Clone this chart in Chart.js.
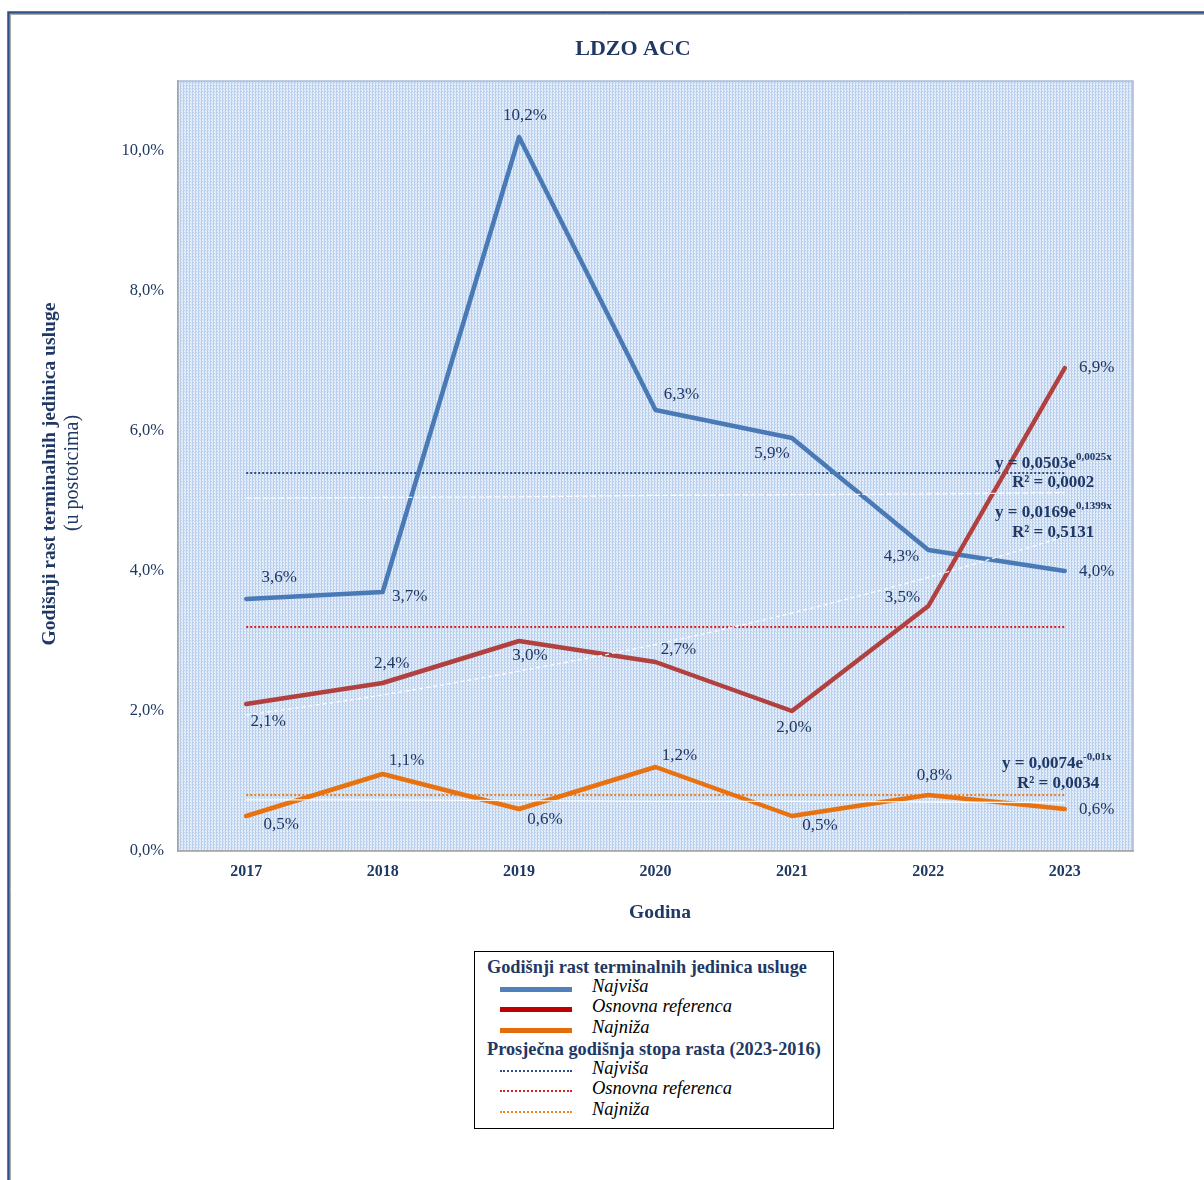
<!DOCTYPE html>
<html>
<head>
<meta charset="utf-8">
<title>LDZO ACC</title>
<script src="https://cdn.jsdelivr.net/npm/chart.js@4.4.0/dist/chart.umd.js"></script>
<style>
  body { margin: 0; background: #fff; }
  #wrap { position: relative; width: 1204px; height: 1180px; }
  #legend {
    position: absolute; left: 474px; top: 951px; width: 358px; height: 176px;
    border: 1.5px solid #000; background: #fff;
    font-family: "Liberation Serif", "Times New Roman", serif;
  }
  .lg-head { position: absolute; left: 12px; font-weight: bold; font-size: 18.3px; color: #1f3864; white-space: nowrap; }
  .lg-row { position: absolute; left: 25px; height: 20px; width: 330px; }
  .lg-row .sw { position: absolute; left: 0; width: 72px; }
  .lg-row .tx { position: absolute; left: 92px; top: -3px; font-style: italic; font-size: 18.5px; color: #000; white-space: nowrap; }
</style>
</head>
<body>
<div id="wrap">
  <canvas id="chart" width="1204" height="1180"></canvas>
  <div id="legend"></div>
</div>
<script>
// podaci
const godine = ['2017', '2018', '2019', '2020', '2021', '2022', '2023'];
const najvisa = [3.6, 3.7, 10.2, 6.3, 5.9, 4.3, 4.0];
const osnovna = [2.1, 2.4, 3.0, 2.7, 2.0, 3.5, 6.9];
const najniza = [0.5, 1.1, 0.6, 1.2, 0.5, 0.8, 0.6];

// prosječna godišnja stopa rasta (2023-2016)
const prosjekNajvisa = [5.4, 5.4, 5.4, 5.4, 5.4, 5.4, 5.4];
const prosjekOsnovna = [3.2, 3.2, 3.2, 3.2, 3.2, 3.2, 3.2];
const prosjekNajniza = [0.8, 0.8, 0.8, 0.8, 0.8, 0.8, 0.8];

// eksponencijalni trendovi (očitano sa slike)
const trendNajvisa = [5.04, 5.05, 5.06, 5.08, 5.09, 5.10, 5.12];
const trendOsnovna = [1.94, 2.23, 2.57, 2.95, 3.40, 3.91, 4.49];
const trendNajniza = [0.73, 0.73, 0.72, 0.71, 0.71, 0.70, 0.69];

const yTicks = [0, 2, 4, 6, 8, 10];

const jednadzbe = [
  { base: 'y = 0,0503e', exp: '0,0025x', r2: 'R² = 0,0002' },
  { base: 'y = 0,0169e', exp: '0,1399x', r2: 'R² = 0,5131' },
  { base: 'y = 0,0074e', exp: '-0,01x', r2: 'R² = 0,0034' }
];

const NAVY = '#1f3864';
const SERIF = '"Liberation Serif", "Times New Roman", serif';
const BLUE = '#4a7ab5';
const RED = '#b0413e';
const ORANGE = '#e8720f';

// pomaci oznaka vrijednosti [dx, dy] u odnosu na točku
const pomakNajvisa = [[33, -21], [27, 5], [6, -21], [26, -15], [-20, 16], [-27, 7], [32, 1]];
const pomakOsnovna = [[22, 18], [9, -19], [11, 15], [23, -12], [2, 17], [-26, -8], [32, 0]];
const pomakNajniza = [[35, 9], [24, -13], [26, 11], [24, -11], [28, 10], [6, -19], [32, 1]];

// pozicije jednadžbi trenda [x, baseline y, x za R², baseline R²]
const pozJednadzbi = [[995, 468, 1012, 487], [995, 517, 1012, 537], [1002, 768, 1017, 788]];

function fmt(v) {
  return v.toFixed(1).replace('.', ',') + '%';
}

// uzorak pozadine
function makePattern(ctx) {
  const c = document.createElement('canvas');
  c.width = 3; c.height = 3;
  const p = c.getContext('2d');
  p.fillStyle = '#e6eefa';
  p.fillRect(0, 0, 3, 3);
  p.fillStyle = '#b9cfee';
  p.fillRect(0, 0, 1, 3);
  p.fillRect(1, 1, 1, 1);
  p.fillStyle = '#d2e0f4';
  p.fillRect(2, 2, 1, 1);
  return ctx.createPattern(c, 'repeat');
}

const okvirPlugin = {
  id: 'okvir',
  beforeDraw(chart) {
    const { ctx, chartArea: a } = chart;
    ctx.save();
    ctx.fillStyle = '#fff';
    ctx.fillRect(0, 0, chart.width, chart.height);
    // vanjski okvir
    ctx.strokeStyle = '#2b4f86';
    ctx.lineWidth = 2.5;
    ctx.beginPath();
    ctx.moveTo(8.5, chart.height);
    ctx.lineTo(8.5, 12.5);
    ctx.lineTo(chart.width, 12.5);
    ctx.stroke();
    ctx.strokeStyle = '#a8a8a8';
    ctx.lineWidth = 1;
    ctx.beginPath();
    ctx.moveTo(10.5, chart.height);
    ctx.lineTo(10.5, 14.5);
    ctx.lineTo(chart.width, 14.5);
    ctx.stroke();
    // pozadina područja
    ctx.fillStyle = makePattern(ctx);
    ctx.fillRect(a.left, a.top, a.right - a.left, a.bottom - a.top);
    ctx.strokeStyle = '#a9bad6';
    ctx.lineWidth = 1.5;
    ctx.strokeRect(a.left, a.top, a.right - a.left, a.bottom - a.top);
    ctx.restore();
  },
  afterDraw(chart) {
    const { ctx } = chart;
    ctx.save();
    ctx.fillStyle = NAVY;
    ctx.textAlign = 'center';
    ctx.textBaseline = 'middle';
    ctx.font = 'bold 22px ' + SERIF;
    ctx.fillText('LDZO ACC', 633, 49);
    ctx.font = 'bold 19.5px ' + SERIF;
    ctx.fillText('Godina', 660, 913);
    ctx.save();
    ctx.translate(50, 474);
    ctx.rotate(-Math.PI / 2);
    ctx.font = 'bold 19.6px ' + SERIF;
    ctx.fillText('Godišnji rast terminalnih jedinica usluge', 0, 0);
    ctx.restore();
    ctx.save();
    ctx.translate(73, 473);
    ctx.rotate(-Math.PI / 2);
    ctx.font = '20px ' + SERIF;
    ctx.fillText('(u postotcima)', 0, 0);
    ctx.restore();

    // jednadžbe trenda
    ctx.textAlign = 'left';
    ctx.textBaseline = 'alphabetic';
    jednadzbe.forEach((j, i) => {
      const [x, y, rx, ry] = pozJednadzbi[i];
      ctx.font = 'bold 17px ' + SERIF;
      ctx.fillText(j.base, x, y);
      const w = ctx.measureText(j.base).width;
      ctx.font = 'bold 11px ' + SERIF;
      ctx.fillText(j.exp, x + w, y - 8);
      ctx.font = 'bold 17px ' + SERIF;
      ctx.fillText(j.r2, rx, ry);
    });
    ctx.restore();
  }
};

const oznakePlugin = {
  id: 'oznake',
  afterDatasetsDraw(chart) {
    const { ctx } = chart;
    ctx.save();
    ctx.font = '17px ' + SERIF;
    ctx.fillStyle = NAVY;
    ctx.textAlign = 'center';
    ctx.textBaseline = 'middle';
    chart.data.datasets.forEach((ds, di) => {
      if (!ds.pomaci) return;
      const meta = chart.getDatasetMeta(di);
      meta.data.forEach((pt, i) => {
        const [dx, dy] = ds.pomaci[i];
        ctx.fillText(fmt(ds.data[i]), pt.x + dx, pt.y + dy);
      });
    });
    ctx.restore();
  }
};

function linija(label, data, color, order, pomaci) {
  return {
    label, data, pomaci, order,
    borderColor: color, backgroundColor: color,
    borderWidth: 4.5, pointRadius: 0, tension: 0,
    borderCapStyle: 'round', borderJoinStyle: 'round'
  };
}
function tockasta(label, data, color) {
  return {
    label, data, order: 5,
    borderColor: color, borderWidth: 2, borderDash: [2, 2],
    pointRadius: 0, tension: 0
  };
}
function trend(label, data, dash) {
  return {
    label, data, order: 0,
    borderColor: 'rgba(255,255,255,0.9)', borderWidth: 1.3, borderDash: dash,
    pointRadius: 0, tension: 0.35, cubicInterpolationMode: 'monotone'
  };
}

new Chart(document.getElementById('chart'), {
  type: 'line',
  data: {
    labels: godine,
    datasets: [
      trend('Trend najviša', trendNajvisa, [6, 2]),
      trend('Trend osnovna', trendOsnovna, [4, 3]),
      trend('Trend najniža', trendNajniza, []),
      linija('Osnovna referenca', osnovna, RED, 1, pomakOsnovna),
      linija('Najniža', najniza, ORANGE, 1, pomakNajniza),
      linija('Najviša', najvisa, BLUE, 2, pomakNajvisa),
      tockasta('Prosjek najviša', prosjekNajvisa, '#2c4f8c'),
      tockasta('Prosjek osnovna', prosjekOsnovna, '#e0201b'),
      tockasta('Prosjek najniža', prosjekNajniza, '#f0801e')
    ]
  },
  options: {
    responsive: false,
    animation: false,
    devicePixelRatio: 1,
    layout: { padding: { top: 81, right: 71, left: 0, bottom: 0 } },
    plugins: {
      legend: { display: false },
      tooltip: { enabled: false }
    },
    scales: {
      x: {
        type: 'category',
        offset: true,
        grid: { display: false },
        border: { display: true, color: '#a6a6a6', width: 1.5 },
        ticks: {
          color: NAVY,
          font: { family: SERIF, size: 16, weight: 'bold' },
          padding: 3,
          maxRotation: 0
        },
        afterFit(scale) { scale.height = 329; }
      },
      y: {
        min: 0,
        max: 11,
        grid: { display: false },
        border: { display: true, color: '#a6a6a6', width: 1.5 },
        afterBuildTicks(scale) { scale.ticks = yTicks.map(v => ({ value: v })); },
        ticks: {
          color: NAVY,
          font: { family: SERIF, size: 16.5 },
          padding: 6,
          callback: v => fmt(v)
        },
        afterFit(scale) { scale.width = 178; }
      }
    }
  },
  plugins: [okvirPlugin, oznakePlugin]
});

// legenda
const legendaRedovi = [
  { type: 'head', text: 'Godišnji rast terminalnih jedinica usluge', top: 5 },
  { type: 'solid', color: '#4f81bd', text: 'Najviša', top: 27 },
  { type: 'solid', color: '#c00000', text: 'Osnovna referenca', top: 47 },
  { type: 'solid', color: '#e46c0a', text: 'Najniža', top: 68 },
  { type: 'head', text: 'Prosječna godišnja stopa rasta (2023-2016)', top: 87 },
  { type: 'dot', color: '#2c4f8c', text: 'Najviša', top: 109 },
  { type: 'dot', color: '#e0201b', text: 'Osnovna referenca', top: 129 },
  { type: 'dot', color: '#f0801e', text: 'Najniža', top: 150 }
];
const leg = document.getElementById('legend');
legendaRedovi.forEach(r => {
  if (r.type === 'head') {
    const d = document.createElement('div');
    d.className = 'lg-head';
    d.style.top = r.top + 'px';
    d.textContent = r.text;
    leg.appendChild(d);
    return;
  }
  const row = document.createElement('div');
  row.className = 'lg-row';
  row.style.top = r.top + 'px';
  const sw = document.createElement('div');
  sw.className = 'sw';
  if (r.type === 'solid') {
    sw.style.top = '8px';
    sw.style.height = '5px';
    sw.style.background = r.color;
  } else {
    sw.style.top = '9px';
    sw.style.height = '0';
    sw.style.borderTop = '2px dotted ' + r.color;
  }
  const tx = document.createElement('div');
  tx.className = 'tx';
  tx.textContent = r.text;
  row.appendChild(sw);
  row.appendChild(tx);
  leg.appendChild(row);
});
</script>
</body>
</html>
